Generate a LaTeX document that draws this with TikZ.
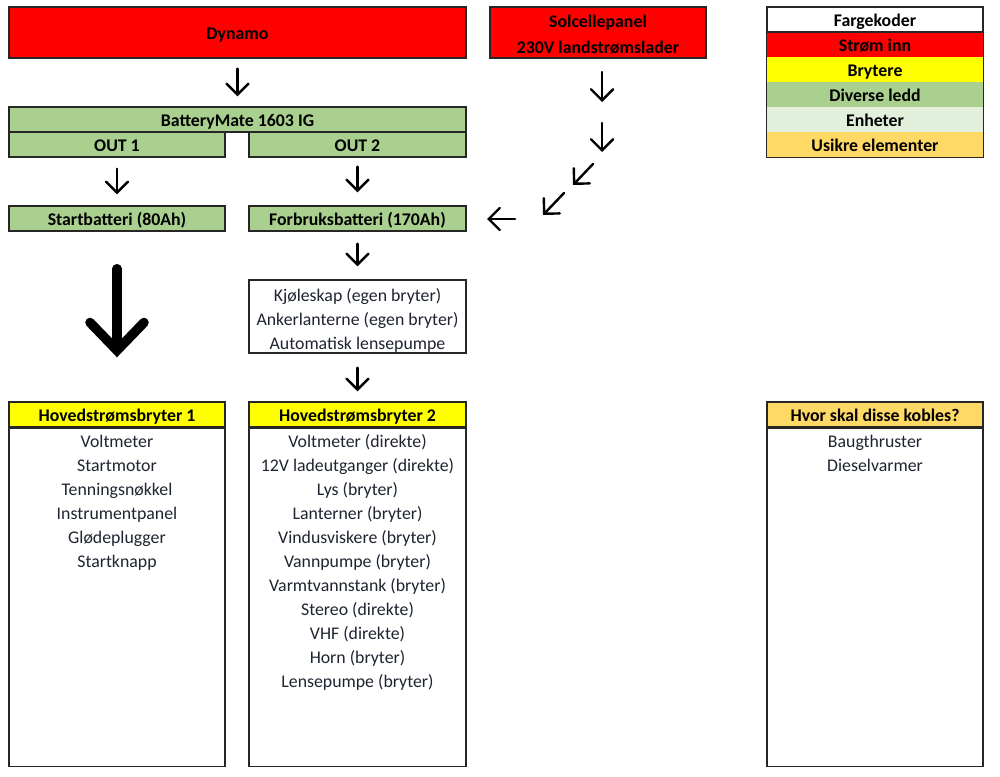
\documentclass[tikz,border=0pt]{standalone}
\usepackage{fontspec}
\setmainfont{Carlito}
\usetikzlibrary{arrows.meta}
\definecolor{cred}{HTML}{FF0000}
\definecolor{cyel}{HTML}{FFFF00}
\definecolor{cgreen}{HTML}{A9D08E}
\definecolor{clight}{HTML}{E2EFDA}
\definecolor{corange}{HTML}{FFD966}
\definecolor{cline}{HTML}{262626}
\definecolor{ctext}{HTML}{1E2430}
\begin{document}
\begin{tikzpicture}[x=1pt,y=-1pt,
  box/.style={draw=cline, line width=1.4pt, inner sep=0pt, text height=14pt, text depth=0pt,
    font=\fontsize{17.8}{24}\selectfont\bfseries},
  plain/.style={inner sep=0pt, text height=14pt, text depth=0pt, text=ctext,
    font=\fontsize{17.8}{24}\selectfont},
  lab/.style={inner sep=0pt, text height=14pt, text depth=0pt,
    font=\fontsize{17.8}{24}\selectfont\bfseries},
  arr/.style={line width=2.4pt, line cap=round, -{Straight Barb[length=11pt,width=22pt,line cap=round]}},
  bigarr/.style={line width=9.5pt, line cap=round, -{Straight Barb[length=28pt,width=54pt,line cap=round]}}
]
\useasboundingbox (0,0) rectangle (1000,776);

% top row
\node[box, fill=cred, minimum width=457pt, minimum height=51pt] (dynamo) at (237.5,32.5) {Dynamo};
\node[box, fill=cred, minimum width=216pt, minimum height=51pt] (solar) at (598,32.5) {};
\node[lab] (solar1) at (598,21) {Solcellepanel};
\node[lab] (solar2) at (598,46) {230V landstrømslader};

% legend
\node[box, fill=white, minimum width=216pt, minimum height=25pt] (leg0) at (875,19.5) {Fargekoder};
\node[lab, fill=cred, minimum width=216pt, minimum height=25pt] (leg1) at (875,44.5) {Strøm inn};
\node[lab, fill=cyel, minimum width=216pt, minimum height=25pt] (leg2) at (875,69.5) {Brytere};
\node[lab, fill=cgreen, minimum width=216pt, minimum height=25pt] (leg3) at (875,94.5) {Diverse ledd};
\node[lab, fill=clight, minimum width=216pt, minimum height=25pt] (leg4) at (875,119.5) {Enheter};
\node[lab, fill=corange, minimum width=216pt, minimum height=25pt] (leg5) at (875,144.5) {Usikre elementer};
\draw[cline, line width=1.4pt] (leg0.north west) rectangle (leg5.south east);
\draw[cline, line width=1.4pt] (leg0.south west) -- (leg0.south east);

% BatteryMate
\node[box, fill=cgreen, minimum width=457pt, minimum height=25pt] (bm) at (237.5,119.5) {BatteryMate 1603 IG};
\node[box, fill=cgreen, minimum width=216pt, minimum height=25pt] (out1) at (117,144.5) {OUT 1};
\node[box, fill=cgreen, minimum width=217pt, minimum height=25pt] (out2) at (357.5,144.5) {OUT 2};

% batteries
\node[box, fill=cgreen, minimum width=216pt, minimum height=25pt] (start) at (117,218.5) {Startbatteri (80Ah)};
\node[box, fill=cgreen, minimum width=217pt, minimum height=25pt] (forbruk) at (357.5,218.5) {Forbruksbatteri (170Ah)};

% direct consumers
\node[box, fill=white, minimum width=217pt, minimum height=73pt] (direct) at (357.5,316.5) {};
\node[plain] (d1) at (357.5,294) {Kjøleskap (egen bryter)};
\node[plain] (d2) at (357.5,318) {Ankerlanterne (egen bryter)};
\node[plain] (d3) at (357.5,342) {Automatisk lensepumpe};

% switch boxes
\node[box, fill=cyel, minimum width=216pt, minimum height=25pt] (hb1) at (117,414.5) {Hovedstrømsbryter 1};
\node[box, fill=white, minimum width=216pt, minimum height=338pt, anchor=north] (hb1list) at (hb1.south) {};
\node[box, fill=cyel, minimum width=217pt, minimum height=25pt] (hb2) at (357.5,414.5) {Hovedstrømsbryter 2};
\node[box, fill=white, minimum width=217pt, minimum height=338pt, anchor=north] (hb2list) at (hb2.south) {};
\node[box, fill=corange, minimum width=216pt, minimum height=25pt] (hb3) at (875,414.5) {Hvor skal disse kobles?};
\node[box, fill=white, minimum width=216pt, minimum height=338pt, anchor=north] (hb3list) at (hb3.south) {};

\foreach \t [count=\i from 0] in {Voltmeter,Startmotor,Tenningsnøkkel,Instrumentpanel,Glødeplugger,Startknapp}
  \node[plain] (a\i) at (117,440+24*\i) {\t};
\foreach \t [count=\i from 0] in {Voltmeter (direkte),12V ladeutganger (direkte),Lys (bryter),Lanterner (bryter),Vindusviskere (bryter),Vannpumpe (bryter),Varmtvannstank (bryter),Stereo (direkte),VHF (direkte),Horn (bryter),Lensepumpe (bryter)}
  \node[plain] (b\i) at (357.5,440+24*\i) {\t};
\foreach \t [count=\i from 0] in {Baugthruster,Dieselvarmer}
  \node[plain] (c\i) at (875,440+24*\i) {\t};

% arrows
\draw[arr, shorten <=10pt, shorten >=10pt] (dynamo) -- (bm);
\draw[arr, shorten <=11pt, shorten >=11pt] (out1) -- (start);
\draw[arr, shorten <=9pt, shorten >=13pt] (out2) -- (forbruk);
\draw[arr, shorten <=12pt, shorten >=13pt] (forbruk) -- (direct);
\draw[arr, shorten <=14pt, shorten >=10pt] (direct) -- (hb2);
\draw[bigarr, shorten <=37pt, shorten >=44pt] (start) -- (hb1);

% solar chain
\coordinate (s1a) at (602,72);  \coordinate (s1b) at (602,102);
\coordinate (s2a) at (602,123); \coordinate (s2b) at (602,152);
\coordinate (s3a) at (593,164); \coordinate (s3b) at (573,185);
\coordinate (s4a) at (564,193); \coordinate (s4b) at (543,215);
\coordinate (s5a) at (515,219); \coordinate (s5b) at (487,219);
\draw[arr] (s1a) -- (s1b);
\draw[arr] (s2a) -- (s2b);
\draw[arr] (s3a) -- (s3b);
\draw[arr] (s4a) -- (s4b);
\draw[arr] (s5a) -- (s5b);
\end{tikzpicture}
\end{document}
